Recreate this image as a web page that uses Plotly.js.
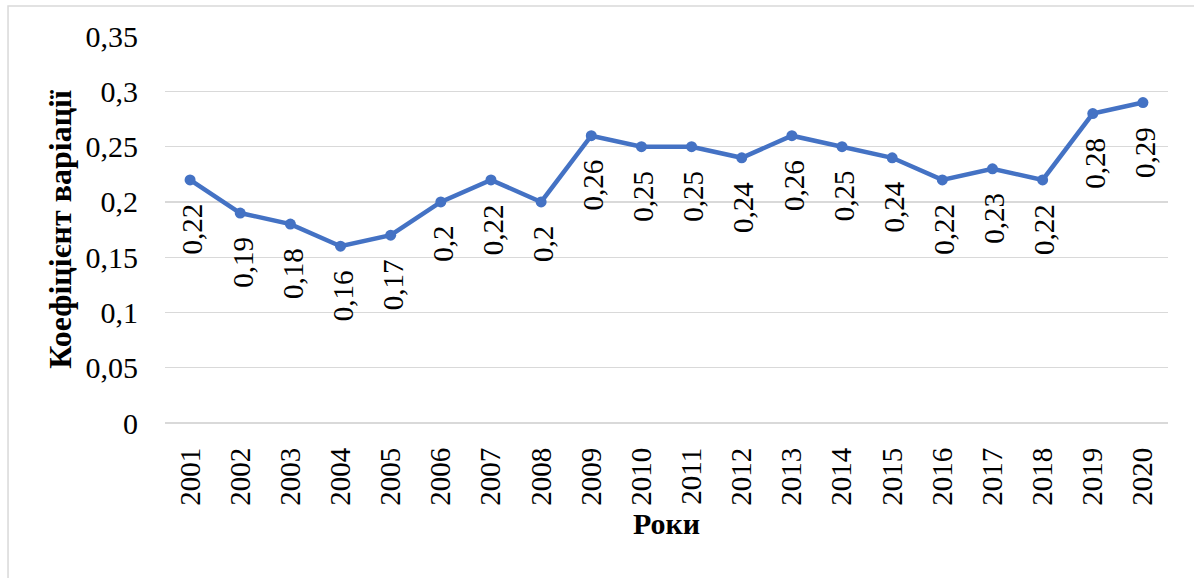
<!DOCTYPE html>
<html>
<head>
<meta charset="utf-8">
<script src="https://cdn.plot.ly/plotly-3.0.1.min.js"></script>
<style>
  html, body { margin: 0; padding: 0; background: #ffffff; }
  #chart { width: 1194px; height: 578px; }
</style>
</head>
<body>
<div id="chart"></div>
<script>
const years = ['2001','2002','2003','2004','2005','2006','2007','2008','2009','2010',
               '2011','2012','2013','2014','2015','2016','2017','2018','2019','2020'];
const coefValues = [0.22, 0.19, 0.18, 0.16, 0.17, 0.2, 0.22, 0.2, 0.26, 0.25,
                    0.25, 0.24, 0.26, 0.25, 0.24, 0.22, 0.23, 0.22, 0.28, 0.29];
const yTickValues = [0, 0.05, 0.1, 0.15, 0.2, 0.25, 0.3, 0.35];
const xTitle = 'Роки';
const yTitle = 'Коефіцієнт варіації';

const FONT = 'Liberation Serif';
const GRID = '#d9d9d9';
const BLUE = '#4472C4';

const fmt = v => String(v).replace('.', ',');

const trace = {
  type: 'scatter',
  mode: 'lines+markers',
  x: years,
  y: coefValues,
  line: { color: BLUE, width: 4.5 },
  marker: { color: BLUE, size: 11 },
  hoverinfo: 'x+y'
};

const labelAnnotations = years.map((yr, i) => ({
  x: i,
  y: coefValues[i],
  xref: 'x',
  yref: 'y',
  text: fmt(coefValues[i]),
  textangle: -90,
  showarrow: false,
  xanchor: 'center',
  yanchor: 'top',
  yshift: -22,
  xshift: 2,
  font: { family: FONT, size: 29, color: '#000000' }
}));

const layout = {
  width: 1194,
  height: 578,
  margin: { l: 165, r: 26, t: 36, b: 155, pad: 0 },
  paper_bgcolor: '#ffffff',
  plot_bgcolor: '#ffffff',
  separators: ', ',
  showlegend: false,
  font: { family: FONT, size: 29, color: '#000000' },
  xaxis: {
    type: 'category',
    range: [-0.5, 19.5],
    showgrid: false,
    zeroline: false,
    showline: false,
    ticks: '',
    tickangle: -90,
    ticklabelstandoff: 18,
    tickfont: { family: FONT, size: 29, color: '#000000' },
    title: { text: '<b>' + xTitle + '</b>', font: { family: FONT, size: 30, color: '#000000' }, standoff: 8 },
    automargin: false,
    fixedrange: true
  },
  yaxis: {
    range: [0, 0.3502],
    tickvals: yTickValues,
    showgrid: true,
    gridcolor: GRID,
    gridwidth: 1.3,
    zeroline: true,
    zerolinecolor: GRID,
    zerolinewidth: 1.3,
    showline: false,
    ticks: '',
    ticklabelstandoff: 26,
    tickfont: { family: FONT, size: 30, color: '#000000' },
    title: { text: '<b>' + yTitle + '</b>', font: { family: FONT, size: 32, color: '#000000' }, standoff: 4 },
    automargin: false,
    fixedrange: true
  },
  shapes: [{
    type: 'rect',
    xref: 'paper', yref: 'paper',
    x0: -0.1565, x1: 1.04,
    y0: -0.45, y1: 1.0775,
    line: { color: GRID, width: 1.5 },
    fillcolor: 'rgba(0,0,0,0)',
    layer: 'below'
  }],
  annotations: labelAnnotations
};

Plotly.newPlot('chart', [trace], layout, { displayModeBar: false, staticPlot: true });
</script>
</body>
</html>
